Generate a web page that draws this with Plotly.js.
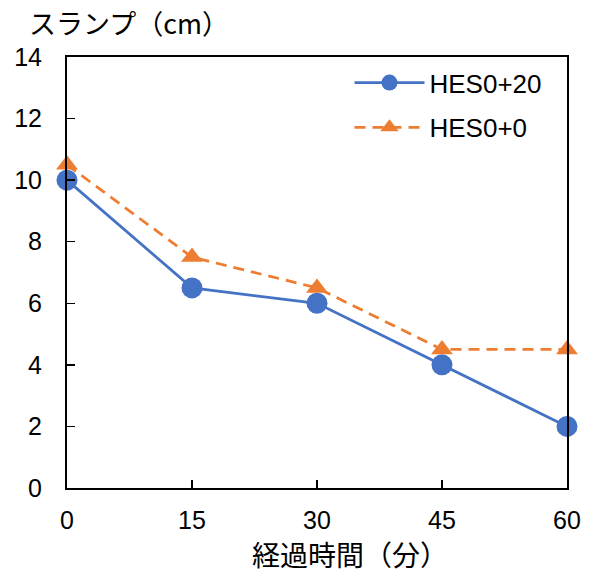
<!DOCTYPE html>
<html><head><meta charset="utf-8">
<script src="https://cdn.plot.ly/plotly-3.0.1.min.js"></script>
<style>body{margin:0;padding:0;background:#fff}#c{width:595px;height:575px}</style>
</head><body><div id="c"></div>
<script>
const times = [0, 15, 30, 45, 60];
const hes20 = [10, 6.5, 6, 4, 2];
const hes0 = [10.5, 7.5, 6.5, 4.5, 4.5];
const xTicks = [0, 15, 30, 45, 60];
const yTicks = [0, 2, 4, 6, 8, 10, 12, 14];
const seriesNames = ['HES0+20', 'HES0+0'];
const yTitle = 'スランプ（cm）';
const xTitle = '経過時間（分）';

const fontFam = '"Liberation Sans", Arial, "Noto Sans CJK JP", sans-serif';
const jpFam = '"Noto Sans CJK JP", sans-serif';
const traces = [
  {x: times, y: hes20, name: seriesNames[0], mode: 'lines+markers', cliponaxis: false, legendgroup: 'a',
   line: {color: '#4472C4', width: 2.75}, marker: {symbol: 'circle', size: 21, color: '#4472C4'}},
  {x: times, y: hes0, name: seriesNames[1], mode: 'lines+markers', cliponaxis: false, legendgroup: 'b',
   line: {color: '#ED7D31', width: 2.75, dash: '11px,7px'}, marker: {symbol: 'triangle-up', size: 19, color: '#ED7D31'}}
];
const layout = {
  width: 595, height: 575,
  margin: {l: 67, r: 28, t: 57, b: 87},
  paper_bgcolor: '#fff', plot_bgcolor: '#fff',
  font: {family: fontFam, size: 25, color: '#000'},
  showlegend: true,
  legend: {x: 0.565, y: 0.995, xanchor: 'left', yanchor: 'top', bgcolor: 'rgba(0,0,0,0)',
    font: {size: 26, family: fontFam, color: '#000'}, itemwidth: 70, tracegroupgap: 8, traceorder: 'grouped'},
  xaxis: {range: [0, 60], tickvals: xTicks, ticktext: xTicks.map(String), ticks: 'inside', ticklen: 8,
    tickwidth: 1.5, tickcolor: '#000', showline: true, linecolor: '#000', linewidth: 2, mirror: true,
    showgrid: false, zeroline: false, tickfont: {size: 25, family: fontFam, color: '#000'}, ticklabelstandoff: 9},
  yaxis: {range: [0, 14], tickvals: yTicks, ticktext: yTicks.map(String), ticks: 'inside', ticklen: 8,
    tickwidth: 1.5, tickcolor: '#000', showline: true, linecolor: '#000', linewidth: 2, mirror: true,
    showgrid: false, zeroline: false, tickfont: {size: 25, family: fontFam, color: '#000'}, ticklabelstandoff: 18},
  annotations: [
    {text: yTitle, xref: 'paper', yref: 'paper', x: -0.08, y: 1.079, xanchor: 'left', yanchor: 'middle',
     showarrow: false, font: {size: 27, family: jpFam, color: '#000'}},
    {text: xTitle, xref: 'paper', yref: 'paper', x: 0.566, y: -0.153, xanchor: 'center', yanchor: 'middle',
     showarrow: false, font: {size: 28, family: jpFam, color: '#000'}}
  ]
};
Plotly.newPlot('c', traces, layout, {displayModeBar: false, staticPlot: true});
</script></body></html>
